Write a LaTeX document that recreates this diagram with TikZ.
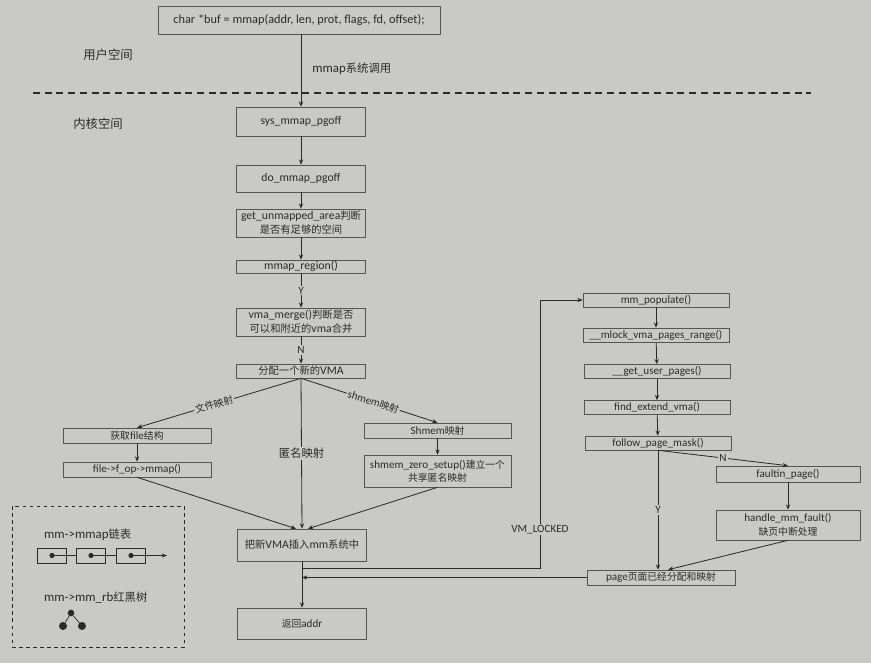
\documentclass[tikz,border=0pt]{standalone}
\usepackage{fontspec}
\setmainfont{Carlito}
\newfontfamily\cjk[Scale=0.88]{Noto Sans CJK SC}
\usetikzlibrary{arrows.meta}
\definecolor{photobg}{RGB}{201,201,198}
\definecolor{inkgray}{RGB}{42,42,42}
\newcommand\zh[1]{{\cjk #1}}

\begin{document}
\begin{tikzpicture}[x=0.03cm,y=-0.03cm,
    >={Stealth[length=4.5pt,width=3.6pt]},
    every node/.style={text=inkgray,font=\fontsize{9.5}{11.5}\selectfont},
    box/.style={draw=inkgray!80,line width=0.5pt,inner sep=0.5pt,align=center,
      minimum width=3.87cm,minimum height=0.42cm},
    mainbox/.style={box,font=\fontsize{10}{12}\selectfont},
    rbox/.style={box,minimum width=4.38cm},
    area/.style={font=\fontsize{12}{14}\selectfont},
    link/.style={draw=inkgray,line width=0.7pt,->},
    thinlink/.style={draw=inkgray,line width=0.45pt,->},
    lbl/.style={fill=photobg,inner sep=1pt},
    cell/.style={draw=inkgray,line width=0.8pt,minimum width=0.87cm,minimum height=0.45cm,inner sep=0pt},
    dot/.style={circle,fill=inkgray,inner sep=0pt,minimum size=0.24cm}]
  \fill[photobg] (0,0) rectangle (871,663);
  \useasboundingbox (0,0) rectangle (871,663);

  \node[box,font=\fontsize{10.5}{12.5}\selectfont,minimum width=8.46cm,minimum height=0.84cm] (mmapcall) at (299,20)
    {char *buf = mmap(addr, len, prot, flags, fd, offset);};
  \node[area] (userspace) at (108,55) {\zh{用户空间}};
  \node[area] (kernelspace) at (98,124) {\zh{内核空间}};
  \coordinate (splitleft) at (33,93);
  \coordinate (splitright) at (811,93);
  \draw[inkgray,line width=1pt,dash pattern=on 6pt off 4pt] (splitleft) -- (splitright);

  \node[mainbox,minimum height=0.87cm] (sysmmap) at (301,121.5) {sys\_mmap\_pgoff};
  \node[mainbox,minimum height=0.81cm] (domap) at (301,178.5) {do\_mmap\_pgoff};
  \node[mainbox,minimum height=0.84cm] (unmapped) at (301,223)
    {get\_unmapped\_area\zh{判断}\\\zh{是否有足够的空间}};
  \node[mainbox,minimum height=0.39cm] (region) at (301,266.5) {mmap\_region()};
  \node[mainbox,minimum height=0.84cm] (merge) at (301,322)
    {vma\_merge()\zh{判断是否}\\\zh{可以和附近的}vma\zh{合并}};
  \node[mainbox] (newvma) at (301,371) {\zh{分配一个新的}VMA};
  \node[mainbox,minimum height=0.96cm] (insert) at (302,545) {\zh{把新}VMA\zh{插入}mm\zh{系统中}};
  \node[box,minimum height=0.93cm] (retaddr) at (302,623.5) {\zh{返回}addr};

  \node[box,minimum width=4.44cm,minimum height=0.45cm] (getfile) at (137,435.5) {\zh{获取}file\zh{结构}};
  \node[box,minimum width=4.44cm,minimum height=0.45cm] (fopmmap) at (137,469.5) {file->f\_op->mmap()};
  \node[box,minimum width=4.41cm,minimum height=0.45cm] (shmemmap) at (437.5,430.5) {Shmem\zh{映射}};
  \node[box,minimum width=4.41cm,minimum height=0.96cm] (zerosetup) at (437.5,471)
    {shmem\_zero\_setup()\zh{建立一个}\\\zh{共享匿名映射}};

  \node[rbox] (populate) at (656,300) {mm\_populate()};
  \node[rbox] (mlock) at (656,335) {\_\_mlock\_vma\_pages\_range()};
  \node[rbox] (gup) at (657,371.5) {\_\_get\_user\_pages()};
  \node[rbox] (findvma) at (657,407.5) {find\_extend\_vma()};
  \node[rbox] (follow) at (658,443) {follow\_page\_mask()};
  \node[box,minimum width=4.32cm,minimum height=0.48cm] (faultin) at (788,474) {faultin\_page()};
  \node[box,minimum width=4.32cm,minimum height=0.9cm] (mmfault) at (788,525)
    {handle\_mm\_fault()\\\zh{缺页中断处理}};
  \node[box,minimum width=4.44cm,minimum height=0.45cm] (pagedone) at (661,577.5)
    {page\zh{页面已经分配和映射}};

  \draw[link] (sysmmap.north |- mmapcall.south) -- node[pos=0.48,right=6pt,font=\fontsize{11}{13}\selectfont]{mmap\zh{系统调用}} (sysmmap.north);
  \draw[link] (sysmmap) -- (domap);
  \draw[link] (domap) -- (unmapped);
  \draw[link] (unmapped) -- (region);
  \draw[link] (region) -- node[lbl]{Y} (merge);
  \draw[link] (merge) -- node[lbl]{N} (newvma);
  \draw[link] (newvma.south) -- node[lbl,sloped,pos=0.53]{\zh{文件映射}} (getfile.north);
  \draw[link] (newvma.south) -- node[lbl,sloped,pos=0.53]{shmem\zh{映射}} (shmemmap.north);
  \draw[link] (newvma.south) -- node[lbl,font=\fontsize{11}{13}\selectfont]{\zh{匿名映射}} (insert.north);
  \draw[link] (getfile) -- (fopmmap);
  \draw[link] (fopmmap.south) -- ([xshift=-0.18cm]insert.north);
  \draw[link] (shmemmap) -- (zerosetup);
  \draw[link] (zerosetup.south) -- ([xshift=0.18cm]insert.north);
  \draw[link] (insert) -- (retaddr);

  \coordinate (lockfork) at (302,568);
  \coordinate (lockturn) at (540,568);
  \draw[thinlink] (lockfork) -- (lockturn)
    -- node[lbl,pos=0.145]{VM\_LOCKED} (lockturn |- populate.west) -- (populate.west);
  \draw[thinlink] (pagedone.west) -- (pagedone.west -| insert.south);

  \draw[link] (populate) -- (mlock);
  \draw[link] (mlock) -- (gup);
  \draw[link] (gup) -- (findvma);
  \draw[link] (findvma) -- (follow);
  \draw[link] (follow.south) -- node[lbl]{Y} (follow.south |- pagedone.north);
  \draw[link] (follow.south) -- node[lbl]{N} (faultin.north);
  \draw[link] (faultin) -- (mmfault);
  \draw[link] (mmfault.south) -- ([xshift=0.21cm]pagedone.north);

  \node[draw=inkgray,dashed,line width=0.6pt,minimum width=5.16cm,minimum height=4.23cm] (legend) at (98,576.5) {};
  \node[anchor=west,font=\fontsize{11}{13}\selectfont] (listlbl) at (40,535) {mm->mmap\zh{链表}};
  \node[cell] (cella) at (52,555.5) {};
  \node[cell] (cellb) at (91,555.5) {};
  \node[cell] (cellc) at (131,555.5) {};
  \coordinate (listend) at (167,555.5);
  \foreach \c in {a,b,c}
    \fill[inkgray] (cell\c) circle (2.2pt);
  \draw[inkgray,line width=0.6pt] (cella.center) -- (cellb.west) (cellb.center) -- (cellc.west);
  \draw[link] (cellc.center) -- (listend);
  \node[anchor=west,font=\fontsize{11}{13}\selectfont] (rblbl) at (40,598) {mm->mm\_rb\zh{红黑树}};
  \node[dot,minimum size=0.2cm] (rbtop) at (71,613) {};
  \node[dot] (rbleft) at (63,626) {};
  \node[dot] (rbright) at (82,626) {};
  \draw[inkgray,line width=0.6pt] (rbtop) -- (rbleft) (rbtop) -- (rbright);
\end{tikzpicture}
\end{document}
